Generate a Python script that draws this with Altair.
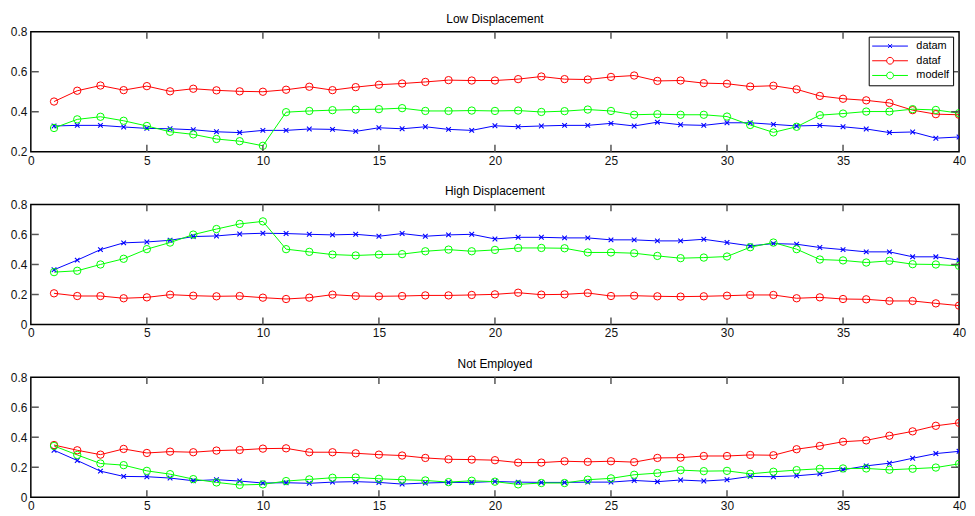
import altair as alt
import pandas as pd

X = list(range(1, 41))
SERIES = ["datam", "dataf", "modelf"]
COLORS = ["#0000ff", "#ff0000", "#00ff00"]
TITLES = ["Low Displacement", "High Displacement", "Not Employed"]
X_TICKS = [0, 5, 10, 15, 20, 25, 30, 35, 40]
Y_TICKS_TOP = [0.2, 0.4, 0.6, 0.8]
Y_TICKS = [0, 0.2, 0.4, 0.6, 0.8]

low_datam = [0.329, 0.332, 0.332, 0.324, 0.317, 0.315, 0.310, 0.300, 0.296, 0.307,
             0.307, 0.314, 0.312, 0.302, 0.320, 0.315, 0.325, 0.312, 0.307, 0.330,
             0.325, 0.329, 0.332, 0.332, 0.342, 0.329, 0.348, 0.335, 0.332, 0.345,
             0.345, 0.337, 0.329, 0.332, 0.325, 0.314, 0.296, 0.299, 0.268, 0.274]
low_dataf = [0.451, 0.505, 0.531, 0.508, 0.528, 0.502, 0.515, 0.507, 0.502, 0.500,
             0.510, 0.525, 0.508, 0.523, 0.535, 0.541, 0.549, 0.558, 0.556, 0.556,
             0.563, 0.576, 0.563, 0.561, 0.574, 0.581, 0.554, 0.556, 0.543, 0.540,
             0.526, 0.530, 0.512, 0.479, 0.465, 0.457, 0.444, 0.408, 0.388, 0.385]
low_modelf = [0.319, 0.362, 0.375, 0.355, 0.329, 0.300, 0.287, 0.264, 0.253, 0.230,
              0.398, 0.404, 0.408, 0.411, 0.413, 0.418, 0.404, 0.404, 0.406, 0.404,
              0.406, 0.399, 0.403, 0.411, 0.404, 0.385, 0.388, 0.385, 0.385, 0.376,
              0.334, 0.297, 0.325, 0.383, 0.391, 0.401, 0.401, 0.413, 0.409, 0.393]

high_datam = [0.365, 0.429, 0.499, 0.544, 0.550, 0.561, 0.586, 0.590, 0.603, 0.608,
              0.606, 0.601, 0.597, 0.601, 0.588, 0.606, 0.588, 0.597, 0.601, 0.570,
              0.581, 0.581, 0.577, 0.577, 0.564, 0.564, 0.557, 0.557, 0.568, 0.546,
              0.524, 0.539, 0.535, 0.513, 0.499, 0.484, 0.484, 0.451, 0.451, 0.429]
high_dataf = [0.208, 0.190, 0.190, 0.175, 0.181, 0.199, 0.192, 0.188, 0.190, 0.179,
              0.170, 0.179, 0.199, 0.190, 0.188, 0.190, 0.194, 0.194, 0.197, 0.201,
              0.212, 0.199, 0.201, 0.210, 0.190, 0.192, 0.188, 0.186, 0.188, 0.192,
              0.197, 0.197, 0.175, 0.181, 0.170, 0.168, 0.157, 0.157, 0.141, 0.126]
high_modelf = [0.349, 0.358, 0.400, 0.438, 0.502, 0.546, 0.599, 0.636, 0.670, 0.687,
               0.502, 0.484, 0.466, 0.460, 0.466, 0.469, 0.488, 0.499, 0.488, 0.497,
               0.510, 0.510, 0.508, 0.480, 0.480, 0.475, 0.457, 0.442, 0.446, 0.453,
               0.515, 0.546, 0.502, 0.433, 0.427, 0.413, 0.424, 0.402, 0.400, 0.391]

ne_datam = [0.313, 0.245, 0.174, 0.139, 0.137, 0.128, 0.110, 0.117, 0.108, 0.095,
            0.097, 0.093, 0.101, 0.104, 0.099, 0.088, 0.095, 0.099, 0.099, 0.105,
            0.101, 0.099, 0.099, 0.101, 0.101, 0.112, 0.104, 0.115, 0.108, 0.117,
            0.139, 0.137, 0.143, 0.156, 0.183, 0.209, 0.227, 0.260, 0.291, 0.306]
ne_dataf = [0.348, 0.313, 0.284, 0.322, 0.295, 0.304, 0.300, 0.311, 0.315, 0.324,
            0.326, 0.300, 0.300, 0.293, 0.284, 0.278, 0.262, 0.253, 0.251, 0.247,
            0.231, 0.231, 0.240, 0.236, 0.240, 0.234, 0.262, 0.264, 0.275, 0.275,
            0.282, 0.280, 0.320, 0.342, 0.370, 0.379, 0.410, 0.439, 0.476, 0.496]
ne_modelf = [0.342, 0.282, 0.225, 0.214, 0.176, 0.154, 0.121, 0.099, 0.082, 0.086,
             0.108, 0.119, 0.130, 0.132, 0.123, 0.117, 0.112, 0.101, 0.110, 0.104,
             0.086, 0.095, 0.095, 0.117, 0.126, 0.150, 0.161, 0.181, 0.174, 0.176,
             0.156, 0.170, 0.181, 0.190, 0.192, 0.192, 0.183, 0.190, 0.198, 0.223]

W, H = 935, 121
FONT = "Liberation Sans"
X_MARK = "M-1,-1L1,1M-1,1L1,-1"
LEG_X = "M-1,0L1,0M-0.11,-0.11L0.11,0.11M-0.11,0.11L0.11,-0.11"
LEG_O = ("M-1,0L-0.19,0M0.19,0L1,0M0.19,0A0.19,0.19,0,1,1,-0.19,0"
         "A0.19,0.19,0,1,1,0.19,0")


def panel(title, datam, dataf, modelf, ymin, yticks, show_legend):
    rows = []
    for name, vals in zip(SERIES, [datam, dataf, modelf]):
        for xv, v in zip(X, vals):
            rows.append({"x": xv, "value": v, "series": name})
    df = pd.DataFrame(rows)
    xs = alt.Scale(domain=[0, 40], nice=False, zero=False)
    ys = alt.Scale(domain=[ymin, 0.8], nice=False, zero=False)
    cscale = alt.Scale(domain=SERIES, range=COLORS)
    xaxis = alt.Axis(values=X_TICKS, title=None, labelPadding=3.5, labelFlush=False,
                     labelExpr="format(datum.value, 'd')")
    yaxis = alt.Axis(values=yticks, title=None, labelPadding=4, labelFlush=False,
                     labelExpr="datum.value == 0 ? '0' : format(datum.value, '.1f')")
    base = alt.Chart(df)
    xe = alt.X("x:Q", scale=xs, axis=xaxis)
    ye = alt.Y("value:Q", scale=ys, axis=yaxis)
    if show_legend:
        color = alt.Color("series:N", scale=cscale)
    else:
        color = alt.Color("series:N", scale=cscale, legend=None)

    lines = base.mark_line(strokeWidth=1, clip=True).encode(
        x=xe, y=ye, color=color, order="x:Q")
    crosses = base.transform_filter("datum.series == 'datam'").mark_point(
        shape=X_MARK, size=22, filled=False, strokeWidth=1.1, opacity=1, clip=True
    ).encode(x=xe, y=ye, color=color)
    circles = base.transform_filter("datum.series != 'datam'").mark_point(
        shape="circle", size=55, filled=False, strokeWidth=1, opacity=1, clip=True
    ).encode(x=xe, y=ye, color=color)

    xt = pd.DataFrame({"t": X_TICKS[1:-1]})
    yt = pd.DataFrame({"t": yticks[1:-1]})
    tick_color = "#555555"
    xte = alt.X("t:Q", scale=xs, axis=xaxis)
    yte = alt.Y("t:Q", scale=ys, axis=yaxis)
    xtb = alt.Chart(xt).mark_rule(color=tick_color, strokeWidth=1.5).encode(
        x=xte, y=alt.value(H - 7), y2=alt.value(H))
    xtt = alt.Chart(xt).mark_rule(color=tick_color, strokeWidth=1.5).encode(
        x=xte, y=alt.value(0), y2=alt.value(7))
    ytl = alt.Chart(yt).mark_rule(color=tick_color, strokeWidth=1.5).encode(
        y=yte, x=alt.value(0), x2=alt.value(8))
    ytr = alt.Chart(yt).mark_rule(color=tick_color, strokeWidth=1.5).encode(
        y=yte, x=alt.value(W - 8), x2=alt.value(W))

    layers = [lines, crosses, circles, xtb, xtt, ytl, ytr]
    if show_legend:
        leg = alt.Legend(
            title=None, orient="none", legendX=844, legendY=5,
            strokeColor="black", fillColor="white", padding=3,
            symbolSize=1296, symbolStrokeWidth=1, symbolOpacity=1,
            clipHeight=13, rowPadding=1.8,
            labelFontSize=11, labelFont=FONT, labelColor="black",
            labelOffset=8, cornerRadius=0,
        )
        legend_layer = base.transform_filter("false").mark_point(
            filled=False, strokeWidth=1
        ).encode(
            x=xe, y=ye,
            color=alt.Color("series:N", scale=cscale, legend=leg),
            shape=alt.Shape("series:N",
                            scale=alt.Scale(domain=SERIES, range=[LEG_X, LEG_O, LEG_O]),
                            legend=leg),
        )
        layers.append(legend_layer)

    return alt.layer(*layers).properties(
        width=W, height=H,
        title=alt.TitleParams(title, fontSize=12, fontWeight="normal", font=FONT,
                              color="black", anchor="middle", offset=0),
    )


p1 = panel(TITLES[0], low_datam, low_dataf, low_modelf, 0.2, Y_TICKS_TOP, True)
p2 = panel(TITLES[1], high_datam, high_dataf, high_modelf, 0, Y_TICKS, False)
p3 = panel(TITLES[2], ne_datam, ne_dataf, ne_modelf, 0, Y_TICKS, False)

chart = alt.vconcat(p1, p2, p3, spacing=17).resolve_scale(
    color="independent", shape="independent", x="independent", y="independent"
).resolve_legend(color="independent", shape="independent").properties(
    padding={"left": 1, "top": 2, "right": 0, "bottom": 0},
    background="white",
).configure_view(
    stroke="black", strokeWidth=1.5
).configure_axis(
    ticks=False, domain=False, grid=False, labelFont=FONT, labelFontSize=12,
    labelColor="#111111", labelFlush=False
)

chart.save("out.html", embed_options={"renderer": "svg", "actions": False})
